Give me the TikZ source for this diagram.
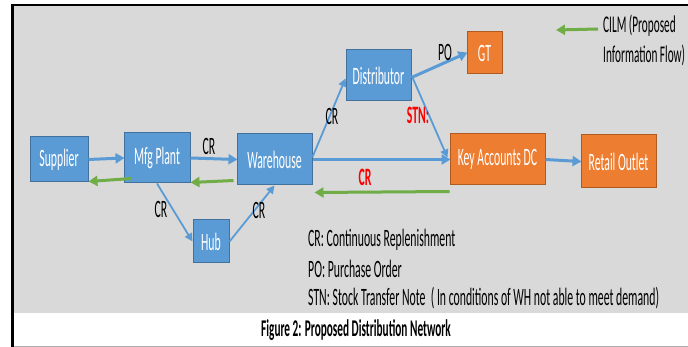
\documentclass[tikz,border=0pt]{standalone}
\usepackage{fontspec}
\setmainfont{Carlito}[FakeStretch=0.47]
\usetikzlibrary{arrows.meta,calc}
\definecolor{boxblue}{HTML}{5B9BD5}
\definecolor{boxblueedge}{HTML}{41719C}
\definecolor{boxorange}{HTML}{ED7D31}
\definecolor{boxorangeedge}{HTML}{AE5A21}
\definecolor{panelgray}{HTML}{D9D9D9}
\definecolor{infogreen}{HTML}{70AD47}
\definecolor{flowblue}{HTML}{5B9BD5}
\tikzset{
  txt/.style={font=\fontsize{25}{29}\selectfont, inner sep=0pt},
  bluebox/.style={txt, draw=boxblueedge, line width=1pt, fill=boxblue, text=white, minimum width=#1},
  orangebox/.style={txt, draw=boxorangeedge, line width=1pt, fill=boxorange, text=white, minimum width=#1},
  flow/.style={draw=flowblue, line width=3pt, -{Triangle[length=9pt,width=10pt]}, shorten >=-1pt},
  thinflow/.style={draw=flowblue, line width=1.8pt, -{Triangle[length=8pt,width=8pt]}},
  info/.style={draw=infogreen, line width=3pt, -{Triangle[length=9pt,width=10pt]}},
  lbl/.style={txt},
  redlbl/.style={txt, font=\fontsize{25}{29}\selectfont\bfseries, text=red},
}
\begin{document}
\begin{tikzpicture}[x=1pt,y=-1pt]
\useasboundingbox (0,0) rectangle (688,347);
% panel and frame
\fill[white] (0,0) rectangle (688,347);
\fill[panelgray] (13,6) rectangle (688,313);
\draw[panelgray!80!black, line width=1pt] (13,346.5) -- (688,346.5);
\draw[black, line width=2.5pt] (12.25,347) -- (12.25,5.25) -- (688,5.25);

% nodes
\node[bluebox=58pt, minimum height=45pt] (sup) at (59,159.5) {Supplier};
\node[bluebox=66pt, minimum height=50pt] (mfg) at (157,158) {Mfg Plant};
\node[bluebox=75pt, minimum height=51pt] (wh) at (274.5,159.5) {Warehouse};
\node[bluebox=65pt, minimum height=51pt] (dist) at (378.5,75.5) {Distributor};
\node[bluebox=36pt, minimum height=43pt] (hub) at (211,241.5) {Hub};
\node[orangebox=35pt, minimum height=42pt] (gt) at (484.5,53) {GT};
\node[orangebox=95pt, minimum height=51pt] (kadc) at (497.5,159.5) {Key Accounts DC};
\node[orangebox=75pt, minimum height=53pt] (ret) at (618.5,161.5) {Retail Outlet};

% material flow
\draw[flow] (sup.east) -- (mfg.west);
\draw[flow] (mfg.east) -- (wh.west);
\draw[flow] (wh.east) -- (kadc.west);
\draw[flow] (kadc.east) -- (ret.west);
\draw[flow] ($(dist.east)+(0,2)$) -- (gt.west);
\draw[thinflow] ($(wh.east)+(0,-2.5)$) -- ($(dist.west)+(0,3)$);
\draw[thinflow] ($(dist.east)+(1,2)$) -- ($(kadc.west)+(-2,-2)$);
\draw[thinflow] (mfg.south) -- (hub.west);
\draw[thinflow] (hub.east) -- (wh.south);

% information flow
\draw[info] ($(mfg.south west)+(8,-5)$) -- ($(sup.south east)+(0,-1)$);
\draw[info] ($(wh.south west)+(-3,-5)$) -- ($(mfg.south east)+(0,-1)$);
\draw[info] ($(kadc.south west)+(0,6)$) -- ($(wh.south east)+(2,7)$);

% connector labels
\node[lbl] (l1) at (209,146) {CR};
\node[lbl] (l2) at (332,116) {CR};
\node[lbl] (l3) at (445,52) {PO};
\node[redlbl] (l4) at (418,115) {STN:};
\node[redlbl] (l5) at (365,177) {CR};
\node[lbl] (l6) at (161,209) {CR};
\node[lbl] (l7) at (259,210) {CR};

% legend
\coordinate (lgA) at (598,29);
\coordinate (lgB) at (556,30);
\draw[info] (lgA) -- (lgB);
\node[lbl, anchor=west, font=\fontsize{24}{28}\selectfont] (cilm1) at (603,26) {CILM (Proposed};
\node[lbl, anchor=west, font=\fontsize{24}{28}\selectfont] (cilm2) at (603,55) {Information Flow)};
\node[lbl, anchor=west] (k1) at (308,240) {CR: Continuous Replenishment};
\node[lbl, anchor=west] (k2) at (308,269) {PO: Purchase Order};
\node[lbl, anchor=west] (k3) at (308,298) {STN: Stock Transfer Note \ ( In conditions of WH not able to meet demand)};

% caption
\node[txt, font=\fontsize{24}{28}\selectfont\bfseries] (cap) at (356,330) {Figure 2: Proposed Distribution Network};
\end{tikzpicture}
\end{document}
